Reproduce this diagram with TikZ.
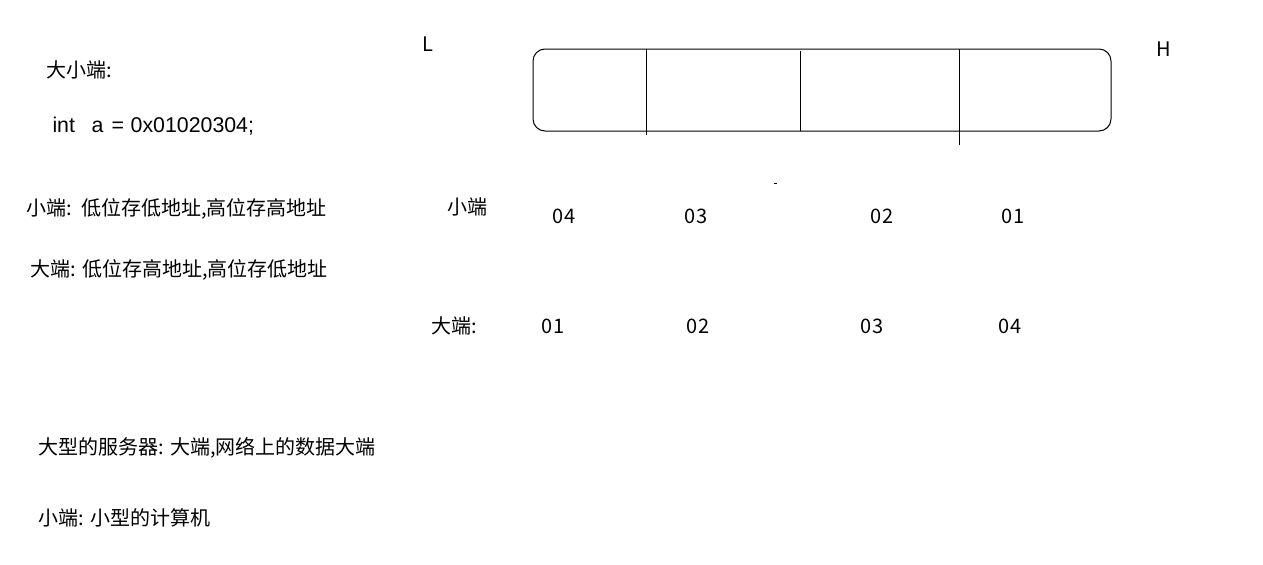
\documentclass[tikz,border=0pt]{standalone}
\usepackage{fontspec}
\setmainfont{Noto Sans CJK SC}
\newfontfamily\libsans{Liberation Sans}
\begin{document}
\begin{tikzpicture}[x=0.75pt,y=-0.75pt,
  txt/.style={inner sep=0pt,anchor=base west,font=\fontsize{15pt}{18pt}\selectfont},
  num/.style={inner sep=0pt,anchor=base,font=\fontsize{15pt}{18pt}\selectfont},
  line width=0.75pt]
\useasboundingbox (0,0) rectangle (1263,564);
% left texts
\node[txt] (t1) at (46,77) {大小端:};
\node[txt,font=\fontsize{16pt}{19pt}\selectfont] (t2) at (52,132) {\libsans int\hspace{12.5pt}a\hspace{6pt}=\hspace{5pt}0x01020304;};
\node[txt] (t3) at (26,215) {小端:\ \ 低位存低地址,高位存高地址};
\node[txt] (t4) at (30,276) {大端: 低位存高地址,高位存低地址};
\node[txt] (t5) at (38,454) {大型的服务器: 大端,网络上的数据大端};
\node[txt] (t6) at (38,525) {小端: 小型的计算机};
% L and H
\node[txt] (L) at (422,51) {L};
\node[txt] (H) at (1156,56) {H};
% memory box
\node[draw,rounded corners=9pt,inner sep=0pt,minimum width=578*0.75pt,minimum height=82*0.75pt] (box) at (822,90) {};
\draw (646,49) -- (646,135);
\draw (800,51) -- (800,131);
\draw (959,49) -- (959,145);
\draw (774,183) -- (777,183);
% little endian row
\node[txt] (le) at (447,214) {小端};
\node[num] (a1) at (564,223) {04};
\node[num] (a2) at (696,223) {03};
\node[num] (a3) at (882,223) {02};
\node[num] (a4) at (1013,223) {01};
% big endian row
\node[txt] (be) at (431,333) {大端:};
\node[num] (b1) at (553,333) {01};
\node[num] (b2) at (698,333) {02};
\node[num] (b3) at (872,333) {03};
\node[num] (b4) at (1010,333) {04};
\end{tikzpicture}
\end{document}
